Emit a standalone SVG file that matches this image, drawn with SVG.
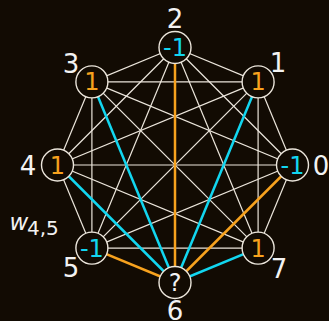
<svg xmlns="http://www.w3.org/2000/svg" width="329" height="321" viewBox="0 0 329 321">
<style>
.bg{fill:#120b03}
.e{stroke:#ece6dc;stroke-width:1.2;fill:none}
.o{stroke:#f7a21e;stroke-width:2.5;fill:none}
.c{stroke:#12d6f0;stroke-width:2.5;fill:none}
.n circle{fill:#120b03;stroke:#ece6dc;stroke-width:1.4}
.v{font-family:"DejaVu Sans",sans-serif;font-size:24px;text-anchor:middle}
.vo{fill:#f7a21e}
.vc{fill:#12d6f0}
.vw{fill:#f2f2f2}
.lab{font-family:"DejaVu Sans",sans-serif;font-size:26px;fill:#f2f2f2;text-anchor:middle}
</style>
<rect class="bg" x="0" y="0" width="329" height="321"/>
<g id="connectors">
<line class="e" x1="292.5" y1="165" x2="258.1" y2="81.9"/>
<line class="e" x1="292.5" y1="165" x2="175" y2="47.5"/>
<line class="e" x1="292.5" y1="165" x2="91.9" y2="81.9"/>
<line class="e" x1="292.5" y1="165" x2="57.5" y2="165"/>
<line class="e" x1="292.5" y1="165" x2="91.9" y2="248.1"/>
<line class="e" x1="292.5" y1="165" x2="258.1" y2="248.1"/>
<line class="e" x1="258.1" y1="81.9" x2="175" y2="47.5"/>
<line class="e" x1="258.1" y1="81.9" x2="91.9" y2="81.9"/>
<line class="e" x1="258.1" y1="81.9" x2="57.5" y2="165"/>
<line class="e" x1="258.1" y1="81.9" x2="91.9" y2="248.1"/>
<line class="e" x1="258.1" y1="81.9" x2="258.1" y2="248.1"/>
<line class="e" x1="175" y1="47.5" x2="91.9" y2="81.9"/>
<line class="e" x1="175" y1="47.5" x2="57.5" y2="165"/>
<line class="e" x1="175" y1="47.5" x2="91.9" y2="248.1"/>
<line class="e" x1="175" y1="47.5" x2="258.1" y2="248.1"/>
<line class="e" x1="91.9" y1="81.9" x2="57.5" y2="165"/>
<line class="e" x1="91.9" y1="81.9" x2="91.9" y2="248.1"/>
<line class="e" x1="91.9" y1="81.9" x2="258.1" y2="248.1"/>
<line class="e" x1="57.5" y1="165" x2="91.9" y2="248.1"/>
<line class="e" x1="57.5" y1="165" x2="258.1" y2="248.1"/>
<line class="e" x1="91.9" y1="248.1" x2="258.1" y2="248.1"/>
<line class="o" x1="175" y1="282.5" x2="292.5" y2="165"/>
<line class="c" x1="175" y1="282.5" x2="258.1" y2="81.9"/>
<line class="o" x1="175" y1="282.5" x2="175" y2="47.5"/>
<line class="c" x1="175" y1="282.5" x2="91.9" y2="81.9"/>
<line class="c" x1="175" y1="282.5" x2="57.5" y2="165"/>
<line class="o" x1="175" y1="282.5" x2="91.9" y2="248.1"/>
<line class="c" x1="175" y1="282.5" x2="258.1" y2="248.1"/>
</g>
<g id="node0" class="n"><circle cx="292.5" cy="165" r="16"/><text class="v vc" x="292.5" y="173.5">-1</text><text class="lab" x="321" y="175">0</text></g>
<g id="node1" class="n"><circle cx="258.1" cy="81.9" r="16"/><text class="v vo" x="258.1" y="90.4">1</text><text class="lab" x="278" y="72">1</text></g>
<g id="node2" class="n"><circle cx="175" cy="47.5" r="16"/><text class="v vc" x="175" y="56">-1</text><text class="lab" x="175" y="28">2</text></g>
<g id="node3" class="n"><circle cx="91.9" cy="81.9" r="16"/><text class="v vo" x="91.9" y="90.4">1</text><text class="lab" x="71" y="72.5">3</text></g>
<g id="node4" class="n"><circle cx="57.5" cy="165" r="16"/><text class="v vo" x="57.5" y="173.5">1</text><text class="lab" x="28" y="175">4</text></g>
<g id="node5" class="n"><circle cx="91.9" cy="248.1" r="16"/><text class="v vc" x="91.9" y="256.6">-1</text><text class="lab" x="71" y="277">5</text></g>
<g id="node6" class="n"><circle cx="175" cy="282.5" r="16"/><text class="v vw" x="175" y="291">?</text><text class="lab" x="175" y="319.5">6</text></g>
<g id="node7" class="n"><circle cx="258.1" cy="248.1" r="16"/><text class="v vo" x="258.1" y="256.6">1</text><text class="lab" x="279" y="278">7</text></g>
<g id="weight-label"><text x="9.5" y="230" font-family="DejaVu Sans, sans-serif" font-size="23" font-style="italic" fill="#f2f2f2">w</text><text x="27" y="235" font-family="DejaVu Sans, sans-serif" font-size="20" fill="#f2f2f2">4,5</text></g>
</svg>
